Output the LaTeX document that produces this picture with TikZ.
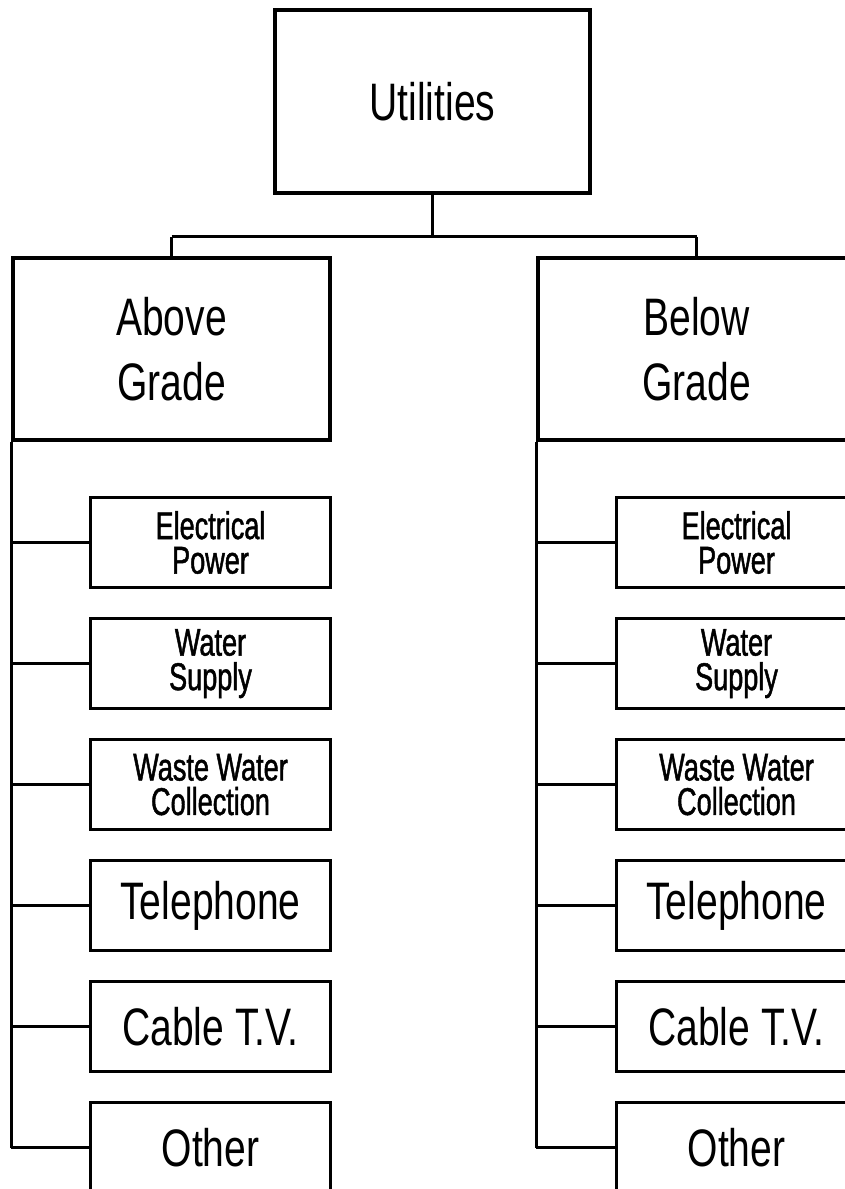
\documentclass[tikz,border=0pt]{standalone}
\usepackage{fontspec}
\setmainfont[FakeStretch=0.74]{Liberation Sans}
\newfontfamily\itemfont[FakeStretch=0.70,FakeBold=1.2]{Liberation Sans}
\usepackage{tikz}
\usetikzlibrary{positioning}

\tikzset{
	topbox/.style={draw=black, line width=1.15pt, minimum width=3.15cm, minimum height=1.83cm, inner sep=0pt, align=center, font=\fontsize{15}{18}\selectfont},
	gradebox/.style={draw=black, line width=0.95pt, minimum width=3.17cm, minimum height=1.82cm, inner sep=0pt, align=center, font=\fontsize{15}{18.5}\selectfont},
	itembox/.style={draw=black, line width=0.85pt, minimum width=2.39cm, minimum height=0.9cm, inner sep=0pt, align=center, font=\fontsize{15}{18}\selectfont},
	smallitem/.style={itembox, font=\itemfont\fontsize{11}{9.8}\selectfont},
	branch/.style={draw=black, line width=0.85pt},
	stem/.style={draw=black, line width=0.6pt},
	node distance=0.28cm
}

\begin{document}
\begin{tikzpicture}[x=0.01cm, y=-0.01cm]
	\useasboundingbox (0,0) rectangle (844,1189);

	\node[topbox] (util) at (432.5,101.5) {Utilities};
	\node[gradebox] (above) at (171.5,349) {Above\\Grade};
	\node[gradebox] (below) at (696.5,349) {Below\\Grade};

	% above grade items
	\node[smallitem] (a1) at (210.5,542.5) {Electrical\\Power};
	\node[smallitem, below=of a1] (a2) {Water\\Supply};
	\node[smallitem, below=of a2] (a3) {Waste Water\\Collection};
	\node[itembox, below=of a3] (a4) {Telephone};
	\node[itembox, below=of a4] (a5) {Cable T.V.};
	\node[itembox, below=of a5] (a6) {Other};

	% below grade items
	\node[smallitem] (b1) at (736.5,542.5) {Electrical\\Power};
	\node[smallitem, below=of b1] (b2) {Water\\Supply};
	\node[smallitem, below=of b2] (b3) {Waste Water\\Collection};
	\node[itembox, below=of b3] (b4) {Telephone};
	\node[itembox, below=of b4] (b5) {Cable T.V.};
	\node[itembox, below=of b5] (b6) {Other};

	\coordinate (bar) at (0,237);
	\draw[stem] (util.south) -- (util.south |- bar);
	\draw[branch] (above.north |- bar) -- (below.north |- bar);
	\draw[branch] (above.north |- bar) -- (above.north);
	\draw[branch] (below.north |- bar) -- (below.north);

	\draw[branch] (above.south west) -- (above.south west |- a6.west);
	\draw[branch] (below.south west) -- (below.south west |- b6.west);
	\foreach \i in {1,...,6} {
		\draw[branch] (above.south west |- a\i.west) -- (a\i.west);
		\draw[branch] (below.south west |- b\i.west) -- (b\i.west);
	}
\end{tikzpicture}
\end{document}
